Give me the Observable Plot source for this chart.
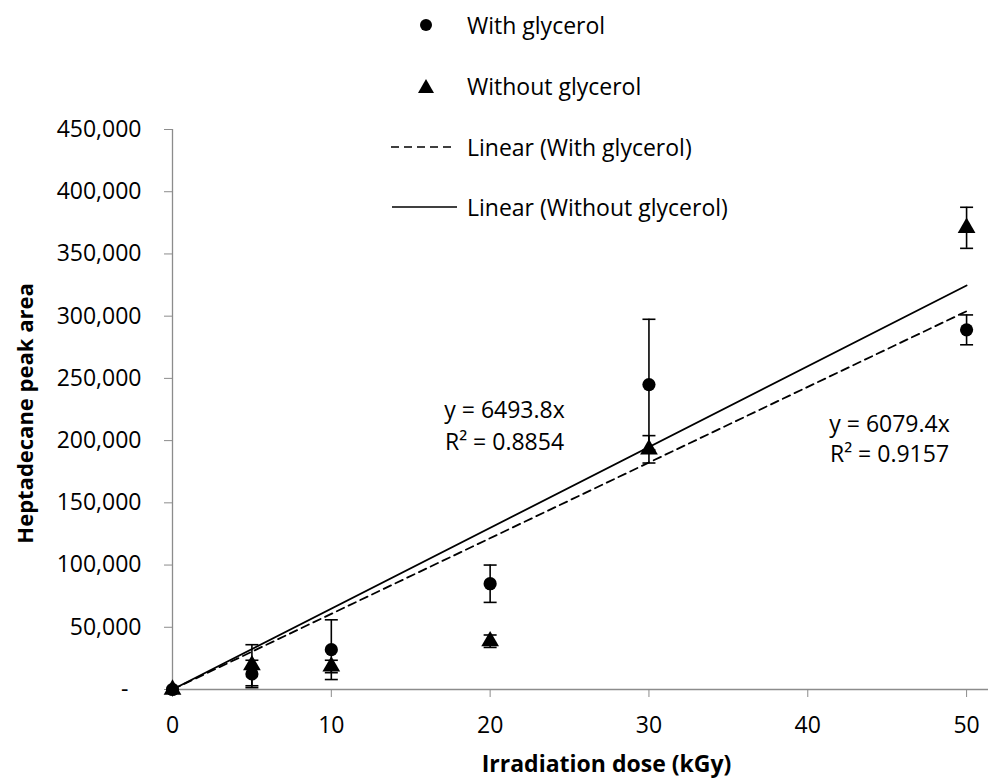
<!DOCTYPE html>
<html><head><meta charset="utf-8">
<script src="https://cdn.jsdelivr.net/npm/d3@7"></script>
<script src="https://cdn.jsdelivr.net/npm/@observablehq/plot@0.6"></script>
<style>
body{margin:0;background:#fff;}
#chart{position:relative;width:988px;height:778px;font-family:"Open Sans",sans-serif;color:#000;}
#chart svg{display:block;}
.legrow{position:absolute;left:380px;height:40px;display:flex;align-items:center;font-size:23px;white-space:nowrap;}
.legrow svg{width:87px;height:40px;flex:none;}
</style></head><body>
<div id="chart"></div>
<script>
// ---- data ----
const doses = [0, 5, 10, 20, 30, 50];
const withGlycerol = [0, 12500, 32000, 85000, 245000, 289000];
const withGlycerolErr = [0, 11000, 24000, 15000, 52500, 12000];
const withoutGlycerol = [0, 19500, 18500, 38800, 193000, 371000];
const withoutGlycerolErr = [0, 16500, 5000, 5000, 11000, 16500];
const seriesNames = ["With glycerol", "Without glycerol"];
const trendNames = ["Linear (With glycerol)", "Linear (Without glycerol)"];
const slopes = [6079.4, 6493.8];
const rSquared = [0.9157, 0.8854];
const trendX = [0, 50];
const yTicks = [0, 50000, 100000, 150000, 200000, 250000, 300000, 350000, 400000, 450000];
const xTicks = [0, 10, 20, 30, 40, 50];
const xTitle = "Irradiation dose (kGy)";
const yTitle = "Heptadecane peak area";

// ---- tables ----
const rowsWith = doses.map((d, i) => ({dose: d, value: withGlycerol[i], err: withGlycerolErr[i]}));
const rowsWithout = doses.map((d, i) => ({dose: d, value: withoutGlycerol[i], err: withoutGlycerolErr[i]}));
const allRows = rowsWith.concat(rowsWithout).filter(d => d.err > 0);
const caps = allRows.flatMap(d => [{dose: d.dose, v: d.value - d.err}, {dose: d.dose, v: d.value + d.err}]);
const trendWith = trendX.map(x => ({x, y: slopes[0] * x}));
const trendWithout = trendX.map(x => ({x, y: slopes[1] * x}));

const capSymbol = {draw(ctx, size) { const w = Math.sqrt(size / Math.PI); ctx.moveTo(-w, 0); ctx.lineTo(w, 0); }};
const axisGray = "#8c8c8c";
const fs = 23;

const chart = Plot.plot({
  width: 988, height: 778,
  marginTop: 129, marginBottom: 89, marginLeft: 172, marginRight: 0,
  style: {fontFamily: "'Open Sans', sans-serif", fontSize: fs + "px", background: "#fff", color: "#000"},
  x: {domain: [0, 51.38]},
  y: {domain: [0, 450000]},
  marks: [
    Plot.ruleY([0], {stroke: axisGray, strokeWidth: 1.3}),
    Plot.ruleX([0], {stroke: axisGray, strokeWidth: 1.3}),
    Plot.axisY(yTicks, {tickSize: 8, tickPadding: 23, stroke: axisGray, fill: "#000", fontSize: fs, label: null,
      tickFormat: d => d === 0 ? "-\u2007" : d3.format(",")(d)}),
    Plot.axisX(xTicks, {tickSize: 8, tickPadding: 19, stroke: axisGray, fill: "#000", fontSize: fs, label: null}),
    Plot.line(trendWith, {x: "x", y: "y", stroke: "#000", strokeWidth: 1.8, strokeDasharray: "8,5"}),
    Plot.line(trendWithout, {x: "x", y: "y", stroke: "#000", strokeWidth: 1.8}),
    Plot.ruleX(allRows, {x: "dose", y1: d => d.value - d.err, y2: d => d.value + d.err, stroke: "#000", strokeWidth: 1.6}),
    Plot.dot(caps, {x: "dose", y: "v", symbol: capSymbol, r: 6.5, stroke: "#000", strokeWidth: 1.6, fill: "none"}),
    Plot.dot(rowsWith, {x: "dose", y: "value", symbol: "circle", r: 6.6, fill: "#000", stroke: "none"}),
    Plot.dot(rowsWithout, {x: "dose", y: "value", symbol: "triangle", r: 6.6, fill: "#000", stroke: "none"}),
    Plot.text([`y = ${slopes[1]}x\nR² = ${rSquared[1]}`], {frameAnchor: "top-left", dx: 332, dy: 294,
      textAnchor: "middle", lineAnchor: "middle", lineHeight: 1.39, fontSize: fs, fill: "#000"}),
    Plot.text([`y = ${slopes[0]}x\nR² = ${rSquared[0]}`], {frameAnchor: "top-left", dx: 717, dy: 308,
      textAnchor: "middle", lineAnchor: "middle", lineHeight: 1.3, fontSize: fs, fill: "#000"}),
    Plot.text([xTitle], {frameAnchor: "bottom", dx: 26, dy: 75, textAnchor: "middle", lineAnchor: "middle",
      fontWeight: "bold", fontSize: fs, fill: "#000"}),
    Plot.text([yTitle], {frameAnchor: "left", rotate: -90, dx: -147, dy: 4, textAnchor: "middle", lineAnchor: "middle",
      fontWeight: "bold", fontSize: 22, fill: "#000"})
  ]
});
const root = document.getElementById("chart");
root.appendChild(chart);

// ---- legend (overlay) ----
const legendItems = [
  {name: seriesNames[0], kind: "circle", top: 5},
  {name: seriesNames[1], kind: "triangle", top: 66},
  {name: trendNames[0], kind: "dash", top: 127},
  {name: trendNames[1], kind: "solid", top: 187}
];
for (const it of legendItems) {
  const row = document.createElement("div");
  row.className = "legrow";
  row.style.top = it.top + "px";
  let sym = "";
  if (it.kind === "circle") sym = `<circle cx="46" cy="20" r="6" fill="#000"/>`;
  else if (it.kind === "triangle") sym = `<path d="M46,13 L54,27 L38,27 Z" fill="#000"/>`;
  else if (it.kind === "dash") sym = `<line x1="11" x2="73" y1="20" y2="20" stroke="#000" stroke-width="1.6" stroke-dasharray="8,5"/>`;
  else sym = `<line x1="12" x2="77" y1="20" y2="20" stroke="#000" stroke-width="1.6"/>`;
  row.innerHTML = `<svg viewBox="0 0 87 40">${sym}</svg><span>${it.name}</span>`;
  root.appendChild(row);
}
</script>
</body></html>
